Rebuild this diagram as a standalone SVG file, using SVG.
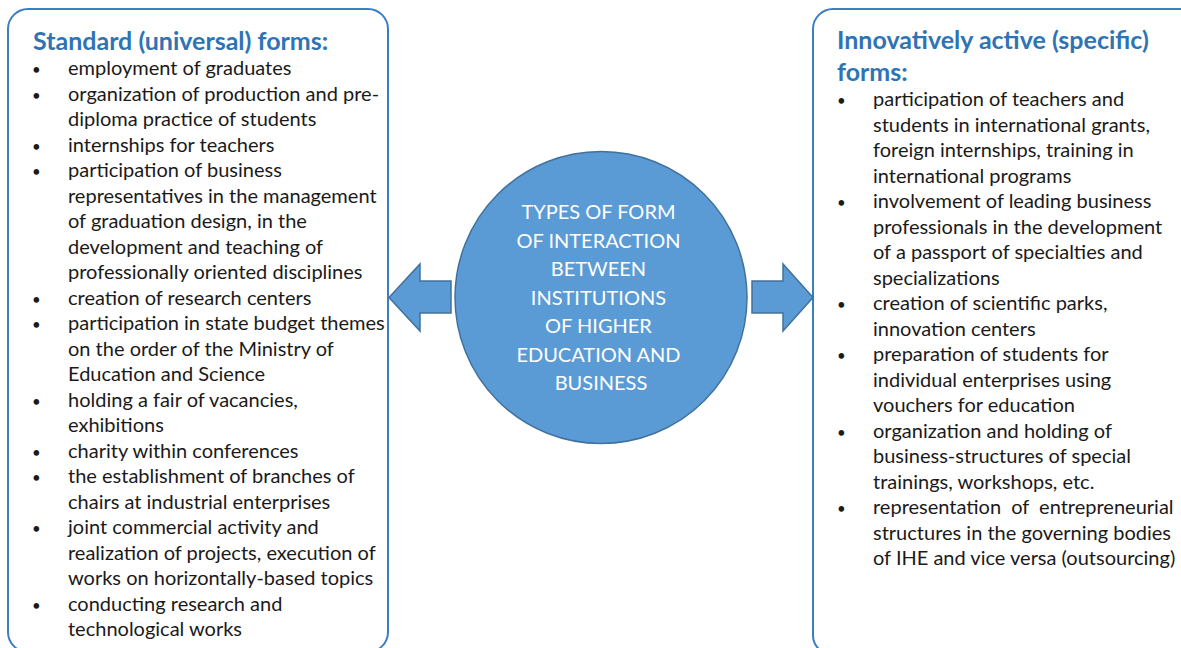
<svg xmlns="http://www.w3.org/2000/svg" width="1181" height="648" viewBox="0 0 1181 648">
<style>
.box{fill:#fff;stroke:#3C7DC4;stroke-width:2}
.title{font-family:Lato,"Liberation Sans",sans-serif;font-weight:bold;font-size:25px;fill:#2E74B5}
.item{font-family:Lato,"Liberation Sans",sans-serif;font-size:20px;fill:#1a1a1a}
.b{font-size:15px}
.ctr{font-family:Lato,"Liberation Sans",sans-serif;font-size:20px;fill:#fff;text-anchor:middle}
.shape{fill:#5B9BD5;stroke:#41719C;stroke-width:1.5}
</style>
<g id="left-box">
<rect class="box" x="8" y="9" width="380" height="643" rx="20"/>
<text class="title" x="33" y="50">Standard (universal) forms:</text>
<text class="item">
<tspan class="b" x="32" y="75">•</tspan><tspan x="68" y="75">employment of graduates</tspan>
<tspan class="b" x="32" y="100.5">•</tspan><tspan x="68" y="100.5">organization of production and pre-</tspan>
<tspan x="68" y="126">diploma practice of students</tspan>
<tspan class="b" x="32" y="151.5">•</tspan><tspan x="68" y="151.5">internships for teachers</tspan>
<tspan class="b" x="32" y="177">•</tspan><tspan x="68" y="177">participation of business</tspan>
<tspan x="68" y="202.5">representatives in the management</tspan>
<tspan x="68" y="228">of graduation design, in the</tspan>
<tspan x="68" y="253.5">development and teaching of</tspan>
<tspan x="68" y="279">professionally oriented disciplines</tspan>
<tspan class="b" x="32" y="304.5">•</tspan><tspan x="68" y="304.5">creation of research centers</tspan>
<tspan class="b" x="32" y="330">•</tspan><tspan x="68" y="330">participation in state budget themes</tspan>
<tspan x="68" y="355.5">on the order of the Ministry of</tspan>
<tspan x="68" y="381">Education and Science</tspan>
<tspan class="b" x="32" y="406.5">•</tspan><tspan x="68" y="406.5">holding a fair of vacancies,</tspan>
<tspan x="68" y="432">exhibitions</tspan>
<tspan class="b" x="32" y="457.5">•</tspan><tspan x="68" y="457.5">charity within conferences</tspan>
<tspan class="b" x="32" y="483">•</tspan><tspan x="68" y="483">the establishment of branches of</tspan>
<tspan x="68" y="508.5">chairs at industrial enterprises</tspan>
<tspan class="b" x="32" y="534">•</tspan><tspan x="68" y="534">joint commercial activity and</tspan>
<tspan x="68" y="559.5">realization of projects, execution of</tspan>
<tspan x="68" y="585">works on horizontally-based topics</tspan>
<tspan class="b" x="32" y="610.5">•</tspan><tspan x="68" y="610.5">conducting research and</tspan>
<tspan x="68" y="636">technological works</tspan>
</text>
</g>
<g id="right-box">
<rect class="box" x="813" y="9" width="400" height="646" rx="20"/>
<text class="title" x="837" y="49">Innovatively active (specific)</text>
<text class="title" x="837" y="81">forms:</text>
<text class="item">
<tspan class="b" x="837" y="106">•</tspan><tspan x="873" y="106">participation of teachers and</tspan>
<tspan x="873" y="131.5">students in international grants,</tspan>
<tspan x="873" y="157">foreign internships, training in</tspan>
<tspan x="873" y="182.5">international programs</tspan>
<tspan class="b" x="837" y="208">•</tspan><tspan x="873" y="208">involvement of leading business</tspan>
<tspan x="873" y="233.5">professionals in the development</tspan>
<tspan x="873" y="259">of a passport of specialties and</tspan>
<tspan x="873" y="284.5">specializations</tspan>
<tspan class="b" x="837" y="310">•</tspan><tspan x="873" y="310">creation of scientific parks,</tspan>
<tspan x="873" y="335.5">innovation centers</tspan>
<tspan class="b" x="837" y="361">•</tspan><tspan x="873" y="361">preparation of students for</tspan>
<tspan x="873" y="386.5">individual enterprises using</tspan>
<tspan x="873" y="412">vouchers for education</tspan>
<tspan class="b" x="837" y="437.5">•</tspan><tspan x="873" y="437.5">organization and holding of</tspan>
<tspan x="873" y="463">business-structures of special</tspan>
<tspan x="873" y="488.5">trainings, workshops, etc.</tspan>
<tspan class="b" x="837" y="514">•</tspan><tspan x="873" y="514" style="word-spacing:5px">representation of entrepreneurial</tspan>
<tspan x="873" y="539.5">structures in the governing bodies</tspan>
<tspan x="873" y="565">of IHE and vice versa (outsourcing)</tspan>
</text>
</g>
<g id="connectors">
<polygon class="shape" points="389,297.5 420,264 420,281 451,281 451,313 420,313 420,331"/>
<polygon class="shape" points="813,297.5 783,264 783,281 752,281 752,313 783,313 783,331"/>
</g>
<g id="center">
<circle class="shape" cx="601" cy="297.5" r="146"/>
<text class="ctr">
<tspan x="601" y="219">TYPES OF FORM</tspan>
<tspan x="601" y="247.5">OF INTERACTION</tspan>
<tspan x="601" y="276">BETWEEN</tspan>
<tspan x="601" y="304.5">INSTITUTIONS</tspan>
<tspan x="601" y="333">OF HIGHER</tspan>
<tspan x="601" y="361.5">EDUCATION AND</tspan>
<tspan x="601" y="390">BUSINESS</tspan>
</text>
</g>
</svg>
